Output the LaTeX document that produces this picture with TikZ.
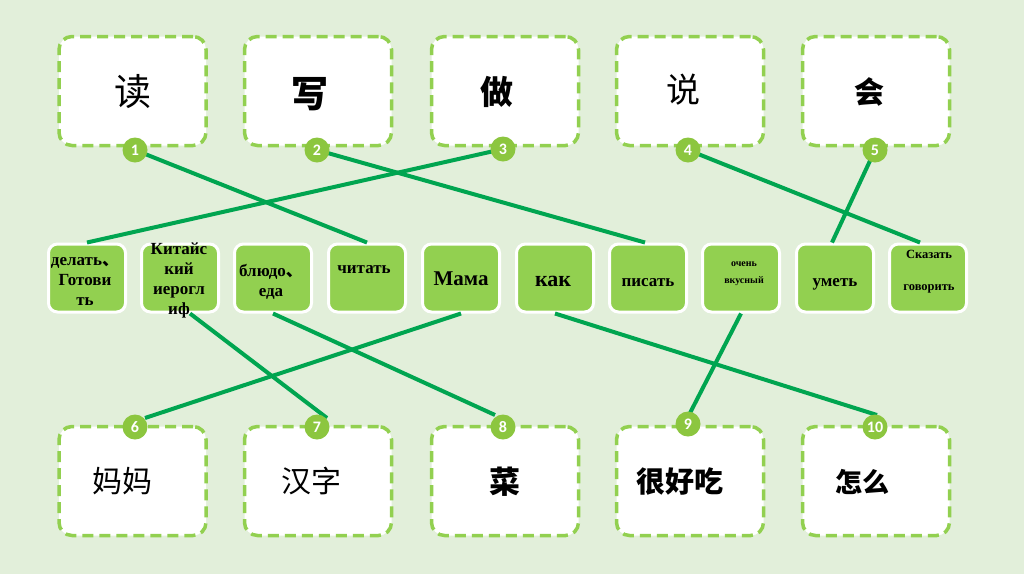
\documentclass[tikz,border=0pt]{standalone}
\usepackage{fontspec}
\setmainfont{Liberation Serif}
\newfontfamily\cjk{Noto Sans CJK SC}
\newfontfamily\numfont{Carlito}
\definecolor{bg}{HTML}{E2EFDA}
\definecolor{dashc}{HTML}{92D050}
\definecolor{midfill}{HTML}{92D050}
\definecolor{linec}{HTML}{00A550}
\definecolor{circ}{HTML}{8CC63F}
\newcommand{\fs}[2]{\fontsize{#1}{#2}\selectfont}
\newcommand{\dun}{{\cjk 、}}
\begin{document}
\begin{tikzpicture}[x=1pt,y=-1pt,
  wordbox/.style={draw=dashc, dash pattern=on 11pt off 6pt, line width=3.5pt, fill=white,
    rounded corners=13pt, minimum width=147pt, minimum height=109pt, inner sep=0pt},
  zh/.style={inner sep=0pt, font=\cjk},
  transbox/.style={draw=white, line width=3pt, fill=midfill, rounded corners=9pt,
    minimum width=77pt, minimum height=68pt, inner sep=0pt},
  tr/.style={align=center, font=\bfseries\fs{17}{20}, inner sep=0pt},
  numc/.style={circle, fill=circ, minimum size=25pt, inner sep=0pt, text=white,
    font=\numfont\bfseries\fs{16}{16}},
  conn/.style={draw=linec, line width=4pt}]
\useasboundingbox[fill=bg] (0,0) rectangle (1024,574);
% top boxes
\node[wordbox] (t1) at (132.5,91) {};
\node[wordbox] (t2) at (318,91) {};
\node[wordbox] (t3) at (505,91) {};
\node[wordbox] (t4) at (690,91) {};
\node[wordbox] (t5) at (876,91) {};
\node[zh, font=\cjk\fs{37}{40}] (w1) at (132.5,92) {读};
\node[zh, font=\cjk\bfseries\fs{37}{40}] (w2) at (310,94) {写};
\node[zh, font=\cjk\bfseries\fs{33}{40}] (w3) at (497,92) {做};
\node[zh, font=\cjk\fs{34}{40}] (w4) at (683,90) {说};
\node[zh, font=\cjk\bfseries\fs{30}{40}] (w5) at (869,92) {会};
% bottom boxes
\node[wordbox] (b6) at (132.5,481) {};
\node[wordbox] (b7) at (318,481) {};
\node[wordbox] (b8) at (505,481) {};
\node[wordbox] (b9) at (690,481) {};
\node[wordbox] (b10) at (876,481) {};
\node[zh, font=\cjk\fs{30}{40}] (w6) at (122.5,481) {妈妈};
\node[zh, font=\cjk\fs{30}{40}] (w7) at (311,481) {汉字};
\node[zh, font=\cjk\bfseries\fs{31}{40}] (w8) at (505,482) {菜};
\node[zh, font=\cjk\bfseries\fs{29}{40}] (w9) at (680,482) {很好吃};
\node[zh, font=\cjk\bfseries\fs{27}{40}] (w10) at (862,482) {怎么};
% middle boxes
\node[transbox] (m1) at (87,278) {};
\node[transbox] (m2) at (180,278) {};
\node[transbox] (m3) at (273,278) {};
\node[transbox] (m4) at (367,278) {};
\node[transbox] (m5) at (461,278) {};
\node[transbox] (m6) at (555,278) {};
\node[transbox] (m7) at (648,278) {};
\node[transbox] (m8) at (741,278) {};
\node[transbox] (m9) at (835,278) {};
\node[transbox] (m10) at (928,278) {};
\node[tr] (x1) at (85,281) {делать\dun\\Готови\\ть};
\node[tr] (x2) at (179,280) {Китайс\\кий\\иерогл\\иф};
\node[tr] (x3) at (271,282) {блюдо\dun\\еда};
\node[tr] (x4) at (364,270) {читать};
\node[tr, font=\bfseries\fs{21}{22}] (x5) at (461,279) {Мама};
\node[tr, font=\bfseries\fs{22}{22}] (x6) at (553,281) {как};
\node[tr] (x7) at (648,283) {писать};
\node[tr, font=\bfseries\fs{10}{17}] (x8) at (744,274) {очень\\вкусный};
\node[tr] (x9) at (835,284) {уметь};
\node[tr, font=\bfseries\fs{12.5}{32}] (x10) at (929,272) {Сказать\\говорить};
% number circle positions
\coordinate (p1) at (135,150);
\coordinate (p2) at (317,150);
\coordinate (p3) at (503,149);
\coordinate (p4) at (688,150);
\coordinate (p5) at (875,150);
\coordinate (p6) at (135,427);
\coordinate (p7) at (317,427);
\coordinate (p8) at (503,427);
\coordinate (p9) at (688,424);
\coordinate (p10) at (875,427);
% connector ends at the bottom circles
\coordinate (e6) at (145,418);
\coordinate (e7) at (327,418);
\coordinate (e8) at (495,415);
\coordinate (e9) at (690,413);
\coordinate (e10) at (877,415);
% connectors
\draw[conn] (p1) -- (m4.north);
\draw[conn] (p2) -- ([xshift=-3pt]m7.north);
\draw[conn] (p3) -- (m1.north);
\draw[conn] (p4) -- ([xshift=-8pt]m10.north);
\draw[conn] (p5) -- ([xshift=-3pt]m9.north);
\draw[conn] (m5.south) -- (e6);
\draw[conn] ([xshift=10pt]m2.south) -- (e7);
\draw[conn] (m3.south) -- (e8);
\draw[conn] (m8.south) -- (e9);
\draw[conn] (m6.south) -- (e10);
% circles on top
\foreach \i in {1,...,10} {\node[numc] (c\i) at (p\i) {\i};}
\end{tikzpicture}
\end{document}
